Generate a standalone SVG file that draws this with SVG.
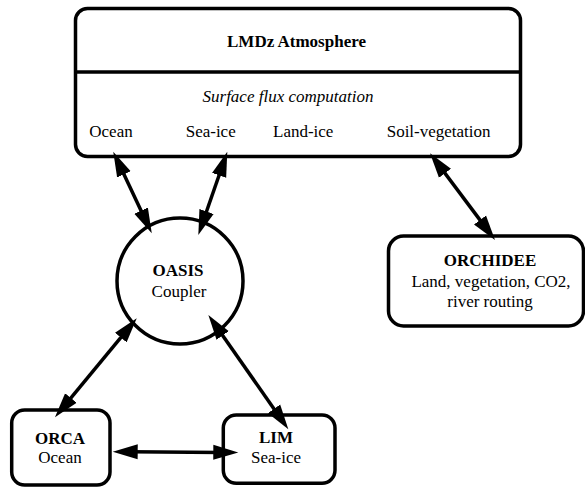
<svg xmlns="http://www.w3.org/2000/svg" width="585" height="489" viewBox="0 0 585 489">
<style>
.box{fill:#fff;stroke:#000;stroke-width:3.5}
.t{font-family:"Liberation Serif","Times New Roman",serif;font-size:17px;fill:#000}
.b{font-weight:bold}
.i{font-style:italic}
.m{text-anchor:middle}
.c{stroke:#000;stroke-width:3.5;fill:none;marker-start:url(#ah);marker-end:url(#ah)}
</style>
<defs>
<marker id="ah" markerUnits="userSpaceOnUse" markerWidth="26" markerHeight="16" viewBox="0 0 26 16" refX="8" refY="8" orient="auto-start-reverse">
<path d="M0,0.5 L25,8 L0,15.5 Z" fill="#000"/>
</marker>
</defs>
<rect width="585" height="489" fill="#fff"/>
<g id="lmdz">
<rect class="box" x="75.5" y="8.5" width="445" height="148" rx="12"/>
<line x1="75.5" y1="72" x2="520.5" y2="72" stroke="#000" stroke-width="3.5"/>
<text class="t b m" x="296.5" y="47">LMDz Atmosphere</text>
<text class="t i m" x="288" y="102">Surface flux computation</text>
<text class="t" x="89.3" y="137">Ocean</text>
<text class="t" x="185.7" y="137">Sea-ice</text>
<text class="t" x="273" y="137">Land-ice</text>
<text class="t" x="386.7" y="137">Soil-vegetation</text>
</g>
<g id="oasis">
<circle class="box" cx="180" cy="281" r="63"/>
<text class="t b m" x="178" y="276">OASIS</text>
<text class="t m" x="179" y="297">Coupler</text>
</g>
<g id="orchidee">
<rect class="box" x="388.5" y="236" width="195" height="90" rx="15"/>
<text class="t b m" x="490" y="266">ORCHIDEE</text>
<text class="t m" x="491" y="287">Land, vegetation, CO2,</text>
<text class="t m" x="490" y="307">river routing</text>
</g>
<g id="orca">
<rect class="box" x="11.7" y="410" width="98.3" height="75" rx="13"/>
<text class="t b m" x="60" y="444">ORCA</text>
<text class="t m" x="60" y="463">Ocean</text>
</g>
<g id="lim">
<rect class="box" x="223.3" y="415" width="111.7" height="68.3" rx="13"/>
<text class="t b m" x="276" y="443">LIM</text>
<text class="t m" x="276" y="463">Sea-ice</text>
</g>
<g id="connectors">
<line class="c" x1="120.5" y1="167.1" x2="144.5" y2="217.9"/>
<line class="c" x1="221.7" y1="167.8" x2="203.9" y2="219.0"/>
<line class="c" x1="440.2" y1="166.9" x2="484.8" y2="226.4"/>
<line class="c" x1="125.9" y1="331.4" x2="65.8" y2="404.2"/>
<line class="c" x1="218.1" y1="328.9" x2="278.6" y2="415.4"/>
<line class="c" x1="129.7" y1="451.8" x2="221.3" y2="452.4"/>
</g>
</svg>
